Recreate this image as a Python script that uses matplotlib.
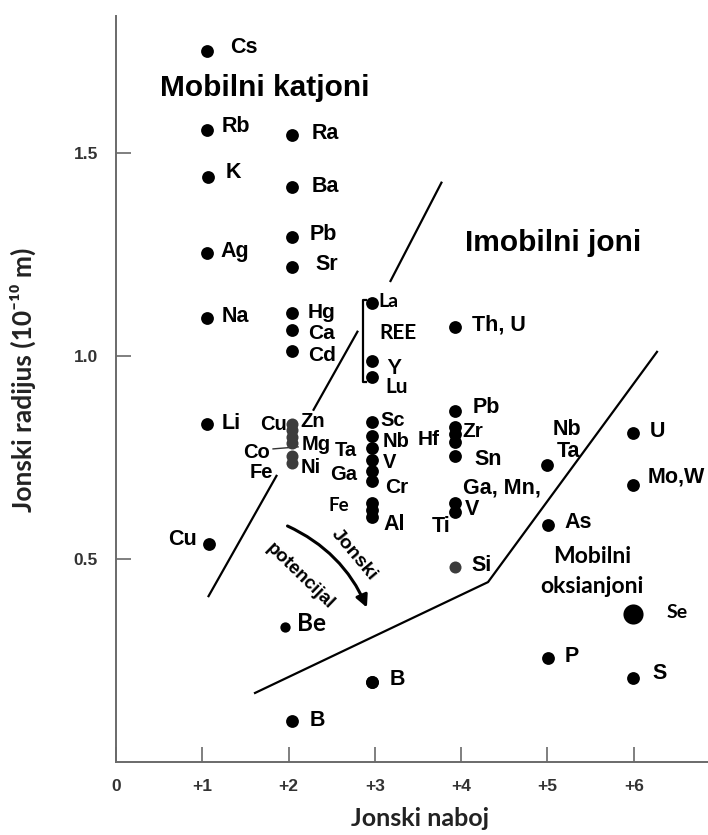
import matplotlib
matplotlib.use("Agg")
import matplotlib.pyplot as plt
from matplotlib.patches import FancyArrowPatch

# ---------------- data ----------------
# ionic charge (x) and ionic radius (y, 1e-10 m) of the plotted ions
black_charge = [1.05, 1.05, 1.07, 1.05, 1.05, 1.05, 1.08,
                2.04, 2.04, 2.04, 2.04, 2.04, 2.04, 2.04, 2.04,
                2.97, 2.97, 2.97, 2.97, 2.97, 2.97, 2.97, 2.97, 2.97, 2.97, 2.97,
                2.97, 2.97, 2.97,
                3.93, 3.93, 3.93, 3.93, 3.93, 3.93, 3.93, 3.93,
                4.99, 5.01, 5.01,
                5.99, 5.99, 5.99]
black_radius = [1.751, 1.557, 1.441, 1.254, 1.093, 0.832, 0.537,
                1.544, 1.417, 1.293, 1.220, 1.105, 1.064, 1.013, 0.101,
                1.131, 0.988, 0.948, 0.837, 0.803, 0.773, 0.744, 0.717, 0.692,
                0.638, 0.620, 0.603, 0.197, 0.197,
                1.072, 0.865, 0.825, 0.808, 0.788, 0.754, 0.638, 0.616,
                0.731, 0.584, 0.256,
                0.810, 0.682, 0.207]
gray_charge = [2.04, 2.04, 2.04, 2.04, 2.04, 2.04, 3.93]
gray_radius = [0.833, 0.818, 0.800, 0.786, 0.754, 0.736, 0.480]
be_charge, be_radius = [1.96], [0.333]
se_charge, se_radius = [5.99], [0.365]

x_ticks = [0, 1, 2, 3, 4, 5, 6]
x_tick_labels = ["0", "+1", "+2", "+3", "+4", "+5", "+6"]
y_ticks = [0.5, 1.0, 1.5]
y_tick_labels = ["0.5", "1.0", "1.5"]

# boundary lines between fields
left_boundary = [([1.066, 1.866], [0.406, 0.707]),
                 ([2.283, 2.804], [0.865, 1.062]),
                 ([3.175, 3.777], [1.182, 1.429])]
lower_boundary_x = [1.611, 4.311, 6.269]
lower_boundary_y = [0.170, 0.443, 1.010]

# element labels: (text, x, y, ha, size)
arial_labels = [
    ("Cs", 1.321, 1.759, "left", 15.5), ("Rb", 1.228, 1.564, "left", 15.5),
    ("K", 1.275, 1.451, "left", 15.5), ("Ag", 1.205, 1.256, "left", 15.5),
    ("Na", 1.228, 1.096, "left", 15.5), ("Li", 1.228, 0.833, "left", 15.5),
    ("Cu", 0.939, 0.547, "right", 15.5),
    ("Ra", 2.271, 1.547, "left", 15.5), ("Ba", 2.271, 1.416, "left", 15.5),
    ("Pb", 2.248, 1.298, "left", 15.5), ("Sr", 2.306, 1.224, "left", 15.5),
    ("Hg", 2.225, 1.108, "left", 15), ("Ca", 2.225, 1.054, "left", 15),
    ("Cd", 2.225, 1.002, "left", 15), ("Zn", 2.132, 0.838, "left", 14.5),
    ("Cu", 1.981, 0.832, "right", 14.5), ("Mg", 2.155, 0.781, "left", 14.5),
    ("Ta", 2.538, 0.768, "left", 14.5), ("Ni", 2.144, 0.725, "left", 14.5),
    ("Co", 1.784, 0.761, "right", 14.5), ("Fe", 1.553, 0.712, "left", 14.5),
    ("Ga", 2.480, 0.709, "left", 14.5),
    ("Sc", 3.059, 0.841, "left", 14.5), ("Nb", 3.094, 0.790, "left", 14.5),
    ("V", 3.094, 0.737, "left", 14.5), ("Cr", 3.117, 0.677, "left", 15),
    ("Al", 3.094, 0.584, "left", 15.5), ("Hf", 3.499, 0.793, "left", 15),
    ("Th, U", 4.125, 1.076, "left", 15.5), ("Pb", 4.137, 0.872, "left", 15.5),
    ("Zr", 4.009, 0.813, "left", 15), ("Sn", 4.148, 0.744, "left", 15.5),
    ("Ga, Mn,", 4.021, 0.675, "left", 15.5), ("V", 4.044, 0.621, "left", 15.5),
    ("Ti", 3.662, 0.579, "left", 15.5), ("Si", 4.114, 0.485, "left", 15.5),
    ("Nb", 5.064, 0.818, "left", 15.5), ("Ta", 5.110, 0.764, "left", 15.5),
    ("As", 5.191, 0.589, "left", 15.5), ("P", 5.203, 0.261, "left", 15.5),
    ("U", 6.188, 0.813, "left", 15.5), ("Mo,W", 6.165, 0.702, "left", 15.5),
    ("S", 6.211, 0.219, "left", 15.5), ("B", 3.175, 0.202, "left", 15.5),
    ("B", 2.248, 0.103, "left", 15.5),
]
humanist_labels = [
    ("La", 3.036, 1.133, "left", 14), ("REE", 3.048, 1.057, "left", 15),
    ("Y", 3.140, 0.970, "left", 15), ("Lu", 3.117, 0.924, "left", 15),
    ("Fe", 2.457, 0.631, "left", 13.5), ("Se", 6.385, 0.367, "left", 14),
    ("Be", 2.097, 0.340, "left", 17.5),
]

fig = plt.figure(figsize=(7.08, 8.35), dpi=100)
ax = fig.add_axes([116 / 708, 73 / 835, 592 / 708, 746 / 835])
ax.set_xlim(0, 6.86)
ax.set_ylim(0, 1.837)

for s in ["top", "right"]:
    ax.spines[s].set_visible(False)
for s in ["left", "bottom"]:
    ax.spines[s].set_color("#6a6a6a")
    ax.spines[s].set_linewidth(1.4)

ax.set_xticks(x_ticks)
ax.set_xticklabels(x_tick_labels)
ax.set_yticks(y_ticks)
ax.set_yticklabels(y_tick_labels)
ax.tick_params(axis="x", direction="in", length=11, width=1.2, color="#6a6a6a",
               pad=12, labelsize=12.5, labelcolor="#333333")
ax.tick_params(axis="y", direction="in", length=11, width=1.2, color="#6a6a6a",
               pad=13, labelsize=12.5, labelcolor="#333333")
for lab in ax.get_xticklabels() + ax.get_yticklabels():
    lab.set_fontfamily("Liberation Sans")
    lab.set_fontweight("bold")

# points
ax.scatter(black_charge, black_radius, s=85, color="black", zorder=3, linewidths=0)
ax.scatter(gray_charge, gray_radius, s=75, color="#3c3c3c", zorder=3, linewidths=0)
ax.scatter(be_charge, be_radius, s=55, color="black", zorder=3, linewidths=0)
ax.scatter(se_charge, se_radius, s=210, color="black", zorder=3, linewidths=0)

# boundaries
for xs, ys in left_boundary:
    ax.plot(xs, ys, color="black", lw=1.6, solid_capstyle="butt")
ax.plot(lower_boundary_x, lower_boundary_y, color="black", lw=1.6)

# REE bracket
ax.plot([2.90, 2.862, 2.862, 2.90], [1.138, 1.138, 0.936, 0.936], color="black", lw=1.6)
# Co pointer
ax.plot([1.82, 2.11], [0.771, 0.776], color="#333333", lw=1.0)

# labels
for t, x, y, ha, fs in arial_labels:
    ax.text(x, y, t, ha=ha, va="center", fontsize=fs, fontweight="bold",
            family="Liberation Sans", color="black")
for t, x, y, ha, fs in humanist_labels:
    ax.text(x, y, t, ha=ha, va="center", fontsize=fs, fontweight="bold",
            family="Lato", color="black")

ax.text(0.51, 1.660, "Mobilni katjoni", ha="left", va="center", fontsize=21.5,
        fontweight="bold", family="Liberation Sans")
ax.text(4.044, 1.278, "Imobilni joni", ha="left", va="center", fontsize=21.5,
        fontweight="bold", family="Liberation Sans")
ax.text(5.516, 0.505, "Mobilni", ha="center", va="center", fontsize=16.5,
        fontweight="bold", family="Lato")
ax.text(5.516, 0.431, "oksianjoni", ha="center", va="center", fontsize=16.5,
        fontweight="bold", family="Lato")

# ionic potential arrow
arrow = FancyArrowPatch((1.958, 0.584), (2.920, 0.374),
                        connectionstyle="arc3,rad=-0.2", arrowstyle="-|>",
                        mutation_scale=18, lw=2.2, color="black")
ax.add_patch(arrow)
ax.text(2.758, 0.510, "Jonski", rotation=-50, ha="center", va="center",
        fontsize=14, fontweight="bold", family="Liberation Sans")
ax.text(2.132, 0.458, "potencijal", rotation=-44, ha="center", va="center",
        fontsize=13.5, fontweight="bold", family="Liberation Sans")

# axis titles
fig.text(420 / 708, 1 - 819 / 835, "Jonski naboj", ha="center", va="center",
         fontsize=18, fontweight="bold", family=["Lato", "DejaVu Sans"], color="#222222")
fig.text(23 / 708, 1 - 380 / 835, "Jonski radijus (10\u207b\u00b9\u2070 m)", ha="center",
         va="center", rotation=90, fontsize=19, fontweight="bold",
         family=["Lato", "DejaVu Sans"], color="#222222")

fig.savefig("out.png", dpi=100)
